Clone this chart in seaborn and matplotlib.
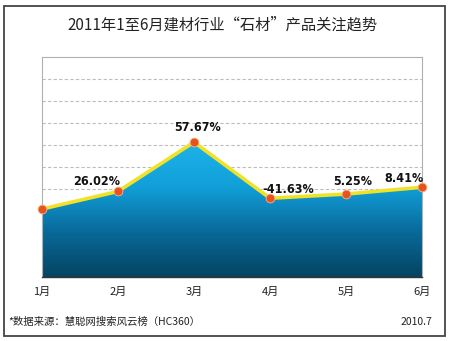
import numpy as np
import pandas as pd
import seaborn as sns
import matplotlib
matplotlib.use("Agg")
import matplotlib.pyplot as plt
from matplotlib.colors import LinearSegmentedColormap
from matplotlib.patches import Rectangle
from matplotlib import font_manager

# Monthly attention index for "石材" products and month-on-month growth labels
months = ["1月", "2月", "3月", "4月", "5月", "6月"]
index_values = [3.09, 3.89, 6.13, 3.58, 3.77, 4.08]
growth_labels = ["", "26.02%", "57.67%", "-41.63%", "5.25%", "8.41%"]

title = "2011年1至6月建材行业“石材”产品关注趋势"
source_note = "*数据来源：慧聪网搜索风云榜（HC360）"
date_note = "2010.7"

sns.set_theme(style="white")
plt.rcParams["font.family"] = ["Noto Sans CJK SC", "DejaVu Sans"]

# narrow bold face for the growth labels
installed = {f.name for f in font_manager.fontManager.ttflist}
narrow = [n for n in ["Liberation Sans Narrow", "DejaVu Sans Condensed"] if n in installed]
label_family = narrow + ["DejaVu Sans"]

df = pd.DataFrame({"pos": np.arange(len(months)), "value": index_values})

fig = plt.figure(figsize=(4.5, 3.41), dpi=100)
fig.patch.set_facecolor("white")
ax = fig.add_axes([42 / 450, 64 / 341, 380 / 450, 220 / 341])
ax.set_xlim(0, len(months) - 1)
ax.set_ylim(0, 10)

# dashed horizontal guides
for y in range(1, 10):
    ax.axhline(y, color="#bdbdbd", lw=0.8, ls=(0, (3, 2)), zorder=0)

# gradient area under the line
poly = ax.fill_between(df["pos"], df["value"], 0, color="none", zorder=1)
cmap = LinearSegmentedColormap.from_list("area", ["#054462", "#09699a", "#119fd8", "#1eb3ea"])
grad = np.linspace(0, 1, 256).reshape(-1, 1)
img = ax.imshow(grad, cmap=cmap, aspect="auto", origin="lower",
                extent=[0, len(months) - 1, 0, max(index_values)], zorder=1)
img.set_clip_path(poly.get_paths()[0], transform=ax.transData)

# yellow trend line with orange markers
sns.lineplot(data=df, x="pos", y="value", ax=ax, color="#f2e227", lw=2.6,
             zorder=3, clip_on=False)
ax.scatter(df["pos"], df["value"], s=40, color="#e8521c", edgecolor="#f7b48a",
           linewidth=0.6, zorder=4, clip_on=False)

# growth labels
offsets = [(0, 0), (-21, 10), (4, 15), (18, 9), (7, 13), (-18, 9)]
for i, lab in enumerate(growth_labels):
    if not lab:
        continue
    dx, dy = offsets[i]
    ax.annotate(lab, (df["pos"][i], df["value"][i]), xytext=(dx * 0.72, dy * 0.72),
                textcoords="offset points", ha="center", va="center",
                fontsize=9, fontweight="bold", fontstretch="condensed",
                color="#111111", family=label_family, zorder=5)

ax.set_xticks(df["pos"])
ax.set_xticklabels(months, fontsize=8, color="#222222")
ax.set_yticks([1, 2])
ax.set_yticklabels([])
ax.tick_params(axis="x", direction="in", length=3, pad=7, color="#444444")
ax.tick_params(axis="y", direction="in", length=3, color="#9ab")
ax.set_xlabel("")
ax.set_ylabel("")
for side in ["top", "left", "right"]:
    ax.spines[side].set_color("#b0b0b0")
    ax.spines[side].set_linewidth(0.8)
ax.spines["bottom"].set_color("#333333")
ax.spines["bottom"].set_linewidth(1.0)

fig.text(222 / 450, 1 - 25 / 341, title, ha="center", va="center",
         fontsize=11, color="#222222")
fig.text(8 / 450, 1 - 322 / 341, source_note, ha="left", va="center",
         fontsize=7.5, color="#222222")
fig.text(432 / 450, 1 - 322 / 341, date_note, ha="right", va="center",
         fontsize=7.5, color="#222222")

# outer frame
fig.patches.append(Rectangle((4 / 450, 5 / 341), 441 / 450, 330 / 341,
                             transform=fig.transFigure, fill=False,
                             edgecolor="#444444", lw=1.3))

fig.savefig("out.png", dpi=100)
